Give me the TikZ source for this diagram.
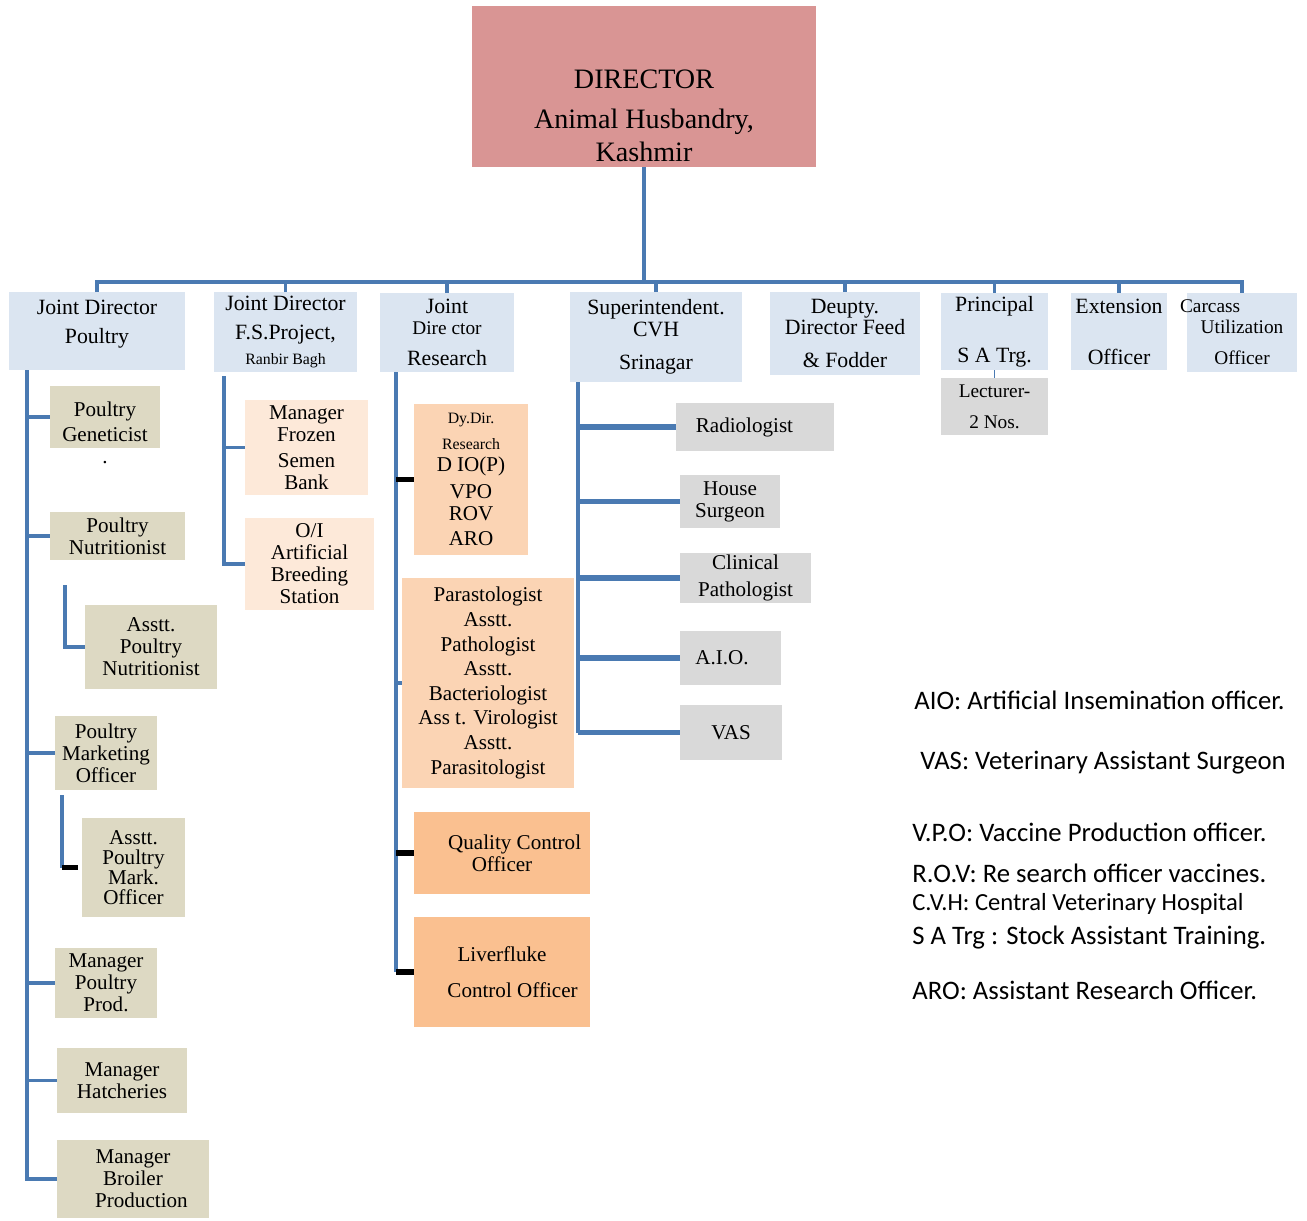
\documentclass[tikz,border=0pt]{standalone}
\usepackage{fontspec}
\setmainfont{Liberation Serif}
\newfontfamily\legendfont{Carlito}
\usepackage{tikz}
\usetikzlibrary{calc}
\definecolor{dirred}{RGB}{217,149,148}
\definecolor{headblue}{RGB}{219,229,241}
\definecolor{tanfill}{RGB}{221,217,195}
\definecolor{lightpeach}{RGB}{253,233,217}
\definecolor{peachfill}{RGB}{251,212,180}
\definecolor{orangefill}{RGB}{250,192,144}
\definecolor{grayfill}{RGB}{217,217,217}
\definecolor{linkblue}{RGB}{74,122,178}
\tikzset{spot/.style n args={4}{at={({(#1+#3)/2},{(#2+#4)/2})},minimum width={(#3-#1)*0.02cm},minimum height={(#4-#2)*0.02cm}}}
\tikzstyle{box}=[inner sep=0pt,outer sep=0pt,align=center,font=\fontsize{12}{12.5}\selectfont]
\tikzstyle{dirbox}=[box,fill=dirred,font=\fontsize{16}{19}\selectfont]
\tikzstyle{headbox}=[box,fill=headblue,font=\fontsize{12.4}{12}\selectfont]
\tikzstyle{tanbox}=[box,fill=tanfill]
\tikzstyle{lightbox}=[box,fill=lightpeach]
\tikzstyle{peachbox}=[box,fill=peachfill]
\tikzstyle{orangebox}=[box,fill=orangefill]
\tikzstyle{graybox}=[box,fill=grayfill]
\tikzstyle{link}=[draw=linkblue,line width=2pt]
\tikzstyle{branch}=[draw=linkblue,line width=3pt]
\tikzstyle{thinlink}=[draw=linkblue,line width=1pt]
\tikzstyle{tick}=[draw=black,line width=3pt]
\tikzstyle{legend}=[anchor=west,inner sep=0pt,font=\legendfont\fontsize{15.2}{17}\selectfont]

\begin{document}
\begin{tikzpicture}[x=0.02cm,y=-0.02cm]
\useasboundingbox (0,0) rectangle (1307,1220);
\node[dirbox,spot={472}{6}{816}{167}] (dir) {\mbox{}\\[25pt]DIRECTOR\\[4pt]Animal Husbandry,\\Kashmir};

\node[headbox,spot={9}{292}{185}{370},label={[box,font=\fontsize{12.4}{12}\selectfont,yshift=4pt]center:{Joint Director\\[4.5pt]Poultry}}] (jdp) {};
\node[headbox,spot={214}{292}{357}{372}] (jdf) {Joint Director\\[4.5pt]F.S.Project,\\[2.5pt]{\fontsize{9}{10}\selectfont Ranbir Bagh}};
\node[headbox,spot={380}{293}{514}{372}] (jdr) {Joint\\{\fontsize{11}{12}\selectfont Dire ctor}\\[5.5pt]Research};
\node[headbox,spot={570}{292}{742}{382}] (supt) {Superintendent.\\CVH\\[7pt]Srinagar};
\node[headbox,spot={770}{292}{920}{375}] (dep) {Deupty.\\Director Feed\\[6.5pt]\& Fodder};
\node[headbox,spot={941}{293}{1048}{370}] (prin) {Principal\\[17pt]S A Trg.};
\node[headbox,spot={1071}{293}{1167}{370}] (ext) {Extension\\[17pt]Officer};
\node[headbox,spot={1187}{293}{1297}{372},font=\fontsize{11}{12}\selectfont] (carc) {\hspace*{-3.3em}Carcass\\Utilization\\[5.5pt]Officer};
\node[graybox,spot={941}{378}{1048}{435},font=\fontsize{11}{12}\selectfont] (lect) {Lecturer-\\[5.5pt]2 Nos.};

\node[tanbox,spot={50}{386}{160}{448},label={[box,yshift=-9pt]center:{Poultry\\[2pt]Geneticist\\.}}] (gen) {};
\node[tanbox,spot={50}{512}{185}{560}] (nut) {Poultry\\Nutritionist};
\node[tanbox,spot={85}{605}{217}{689}] (anut) {Asstt.\\Poultry\\Nutritionist};
\node[tanbox,spot={55}{716}{157}{790}] (pmo) {Poultry\\Marketing\\Officer};
\node[tanbox,spot={82}{818}{185}{917},font=\fontsize{12}{11.5}\selectfont] (amk) {Asstt.\\Poultry\\Mark.\\Officer};
\node[tanbox,spot={55}{948}{157}{1018}] (mpp) {Manager\\Poultry\\Prod.};
\node[tanbox,spot={57}{1048}{187}{1113}] (mh) {Manager\\Hatcheries};
\node[tanbox,spot={57}{1140}{209}{1218}] (mbp) {Manager\\Broiler\\\hspace*{0.8em}Production};

\node[lightbox,spot={245}{400}{368}{495}] (frz) {Manager\\Frozen\\[2pt]Semen\\Bank};
\node[lightbox,spot={245}{518}{374}{610}] (oi) {O/I\\Artificial\\Breeding\\Station};

\node[peachbox,spot={414}{404}{528}{555}] (dy) {{\fontsize{9}{10}\selectfont Dy.Dir.}\\[2pt]{\fontsize{9}{10}\selectfont Research}\\D IO(P)\\[3pt]VPO\\ROV\\[2pt]ARO};
\node[peachbox,spot={402}{578}{574}{788},font=\fontsize{12}{14}\selectfont] (par) {Parastologist\\Asstt.\\Pathologist\\Asstt.\\Bacteriologist\\Ass t. Virologist\\Asstt.\\Parasitologist};
\node[orangebox,spot={414}{812}{590}{894}] (qc) {\hspace*{1.2em}Quality Control\\Officer};
\node[orangebox,spot={414}{917}{590}{1027}] (liv) {Liverfluke\\[8pt]\hspace*{1em}Control Officer};

\node[graybox,spot={676}{403}{834}{451}] (rad) {Radiologist\hspace*{1em}};
\node[graybox,spot={680}{475}{780}{528}] (hs) {House\\Surgeon};
\node[graybox,spot={680}{553}{811}{603}] (cp) {Clinical\\[3pt]Pathologist};
\node[graybox,spot={680}{631}{781}{685}] (aio) {A.I.O.\hspace*{0.8em}};
\node[graybox,spot={680}{705}{782}{760}] (vas) {VAS};

\coordinate (hub) at ($(dir.south |- jdp.north)+(0,-10)$);
\draw[link] (dir.south) -- (hub);
\draw[link] (jdp.north) |- (hub) -| (carc.north);
\foreach \c in {jdf,jdr,supt,dep,prin,ext}
  \draw[link] (\c.north) -- (\c.north |- hub);

\coordinate (ptrunk) at ($(jdp.south west)+(18,0)$);
\coordinate (ftrunk) at ($(jdf.south west)+(10,4)$);
\coordinate (rtrunk) at ($(jdr.south west)+(16,0)$);
\coordinate (strunk) at ($(supt.south west)+(8,0)$);
\coordinate (nsub) at ($(nut.south west)+(15,25)$);
\coordinate (msub) at ($(pmo.south west)+(7,5)$);

\foreach \c in {gen,nut,pmo,mpp,mh,mbp}
  \draw[link] (ptrunk) |- (\c.west);
\draw[link] (nsub) |- (anut.west);
\draw[link] (msub) -- (msub |- amk.west);
\draw[tick] (msub |- amk.west) -- ($(amk.west)+(-4,0)$);

\foreach \c in {frz,oi}
  \draw[link] (ftrunk) |- (\c.west);

\draw[link] (rtrunk) -- (rtrunk |- liv.west);
\draw[link] (rtrunk |- par.west) -- (par.west);
\foreach \c in {dy,qc,liv}
  \draw[tick] (rtrunk |- \c.west) -- (\c.west);

\draw[link] (strunk) -- (strunk |- vas.west);
\foreach \c in {rad,hs,cp,aio,vas}
  \draw[branch] (strunk |- \c.west) -- (\c.west);

\draw[thinlink] (prin.south) -- (lect.north);

\node[legend] (aiokey) at (914,700) {AIO: Artificial Insemination officer.};
\node[legend] (vaskey) at (920,763) {VAS: Veterinary Assistant Surgeon};
\node[legend] (vpokey) at (912,832) {V.P.O: Vaccine Production officer.};
\node[legend] (rovkey) at (912,873) {R.O.V: Re search officer vaccines.};
\node[legend,font=\legendfont\fontsize{14}{15}\selectfont] (cvhkey) at (912,904) {C.V.H: Central Veterinary Hospital};
\node[legend] (sakey) at (912,938) {S A Trg : Stock Assistant Training.};
\node[legend] (arokey) at (912,990) {ARO: Assistant Research Officer.};
\end{tikzpicture}
\end{document}
